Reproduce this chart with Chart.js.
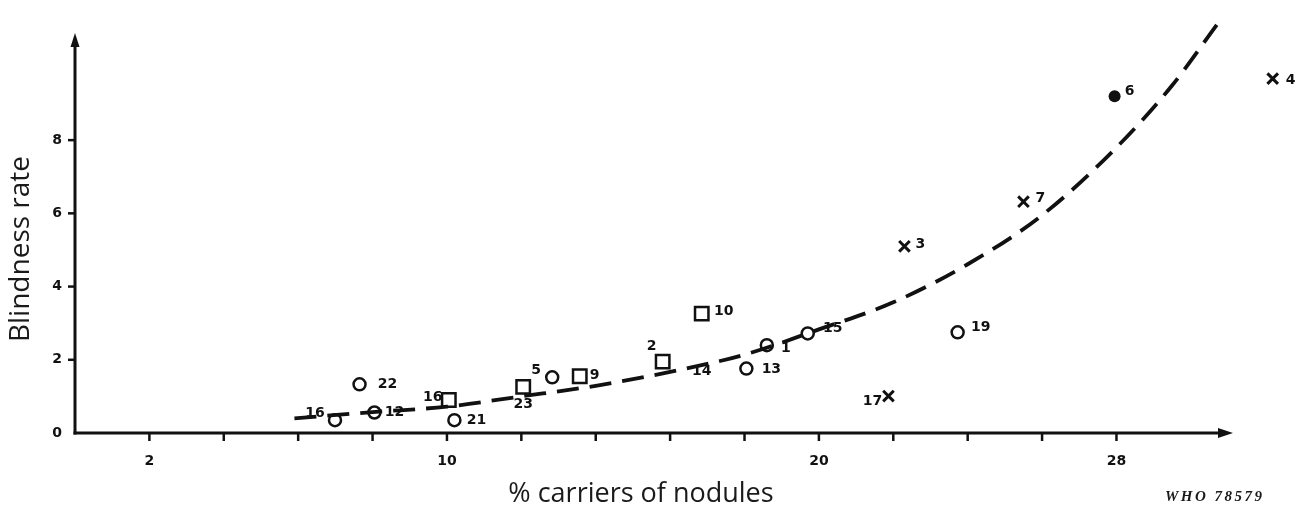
<!DOCTYPE html>
<html>
<head>
<meta charset="utf-8">
<script src="https://cdn.jsdelivr.net/npm/chart.js@4"></script>
<style>
  html, body { margin: 0; padding: 0; background: #fff; overflow: hidden; }
  canvas { display: block; }
</style>
</head>
<body>
<canvas id="c" width="1307" height="510" style="width:1307px;height:510px"></canvas>
<script>
// Survey areas, grouped by marker type: % carriers of nodules vs blindness rate
const openCircleIds = ['16', '12', '22', '21', '5', '13', '1', '15', '19'];
const openCircleX   = [6.99, 8.05, 7.65, 10.2, 12.83, 18.05, 18.6, 19.7, 23.73];
const openCircleY   = [0.35, 0.56, 1.33, 0.35, 1.52, 1.76, 2.4, 2.72, 2.75];

const squareIds = ['16', '23', '9', '2', '10'];
const squareX   = [10.05, 12.05, 13.57, 15.8, 16.85];
const squareY   = [0.9, 1.26, 1.55, 1.95, 3.26];

const crossIds = ['17', '3', '7', '4'];
const crossX   = [21.87, 22.3, 25.5, 32.2];
const crossY   = [1.01, 5.1, 6.32, 9.68];

const filledIds = ['6'];
const filledX   = [27.95];
const filledY   = [9.2];

// area 14 lies on the trend line itself
const onCurveIds = ['14'];
const onCurveX   = [16.85];
const onCurveY   = [1.68];

// fitted trend line
const curveX = [5.9, 8, 10, 12, 14, 16, 18, 20, 22, 24, 26, 28, 29.5, 30.7];
const curveY = [0.40, 0.57, 0.72, 1.0, 1.29, 1.67, 2.14, 2.83, 3.57, 4.61, 5.95, 7.8, 9.5, 11.15];

// axis ticks
const xTickMarks  = [2, 4, 6, 8, 10, 12, 14, 16, 18, 20, 22, 24, 26, 28];
const xTickLabels = [2, 10, 20, 28];
const yTickMarks  = [2, 4, 6, 8];
const yTickLabels = [0, 2, 4, 6, 8];

const xTitle = '% carriers of nodules';
const yTitle = 'Blindness rate';
const figureRef = 'WHO 78579';

// label nudges in px relative to each marker: [dx, dy]
const circleNudge = [[-20, -7], [20, 0], [28, 0], [22, 0], [-16, -7], [25, 1], [19, 3], [25, -5], [23, -5]];
const squareNudge = [[-16, -3], [0, 17], [15, -1], [-11, -15], [22, -2]];
const crossNudge  = [[-16, 5], [16, -2], [17, -3], [18, 2]];
const filledNudge = [[15, -5]];
const onCurveNudge = [[0, 0]];

const pts = (xs, ys) => xs.map((x, i) => ({ x: x, y: ys[i] }));

const INK = '#111';

const axesPlugin = {
  id: 'handAxes',
  beforeDatasetsDraw(chart) {
    const { ctx, scales: { x, y } } = chart;
    const x0 = x.getPixelForValue(0), y0 = y.getPixelForValue(0);
    ctx.save();
    ctx.strokeStyle = INK; ctx.fillStyle = INK; ctx.lineWidth = 3; ctx.lineCap = 'butt';
    // y axis with arrow
    const yTop = 33;
    ctx.beginPath(); ctx.moveTo(x0, y0 + 1.5); ctx.lineTo(x0, yTop + 10); ctx.stroke();
    ctx.beginPath(); ctx.moveTo(x0, yTop); ctx.lineTo(x0 - 4.5, yTop + 14); ctx.lineTo(x0 + 4.5, yTop + 14); ctx.closePath(); ctx.fill();
    // x axis with arrow
    const xEnd = 1233;
    ctx.beginPath(); ctx.moveTo(x0 - 1.5, y0); ctx.lineTo(xEnd - 10, y0); ctx.stroke();
    ctx.beginPath(); ctx.moveTo(xEnd, y0); ctx.lineTo(xEnd - 15, y0 - 5); ctx.lineTo(xEnd - 15, y0 + 5); ctx.closePath(); ctx.fill();
    // tick marks
    ctx.lineWidth = 2.5;
    xTickMarks.forEach(v => {
      const px = x.getPixelForValue(v);
      ctx.beginPath(); ctx.moveTo(px, y0); ctx.lineTo(px, y0 + 8); ctx.stroke();
    });
    yTickMarks.forEach(v => {
      const py = y.getPixelForValue(v);
      ctx.beginPath(); ctx.moveTo(x0, py); ctx.lineTo(x0 - 7, py); ctx.stroke();
    });
    // tick labels
    ctx.font = 'bold 14px "DejaVu Sans"';
    ctx.textBaseline = 'middle';
    ctx.textAlign = 'center';
    xTickLabels.forEach(v => ctx.fillText(String(v), x.getPixelForValue(v), y0 + 28));
    ctx.textAlign = 'right';
    yTickLabels.forEach(v => ctx.fillText(String(v), x0 - 13, y.getPixelForValue(v)));
    // axis titles
    ctx.fillStyle = '#1a1a1a';
    ctx.font = '27px "Open Sans"';
    ctx.textAlign = 'center';
    ctx.fillText(xTitle, 641, 494);
    ctx.save();
    ctx.translate(21, 249); ctx.rotate(-Math.PI / 2);
    ctx.font = '28px "Open Sans"';
    ctx.fillText(yTitle, 0, 0);
    ctx.restore();
    // figure reference
    ctx.font = 'italic bold 15px "Liberation Serif"';
    ctx.letterSpacing = '2.5px';
    ctx.textAlign = 'left';
    ctx.fillText(figureRef, 1165, 497);
    ctx.restore();
  },
  afterDatasetsDraw(chart) {
    const { ctx } = chart;
    ctx.save();
    ctx.fillStyle = INK;
    ctx.font = 'bold 14px "DejaVu Sans"';
    ctx.textAlign = 'center';
    ctx.textBaseline = 'middle';
    chart.data.datasets.forEach((ds, di) => {
      if (!ds.ids) return;
      const meta = chart.getDatasetMeta(di);
      ds.ids.forEach((id, i) => {
        const el = meta.data[i];
        const n = ds.nudge[i];
        ctx.fillText(id, el.x + n[0], el.y + n[1]);
      });
    });
    ctx.restore();
  }
};

new Chart(document.getElementById('c'), {
  type: 'scatter',
  data: {
    datasets: [
      {
        type: 'line', label: 'trend', data: pts(curveX, curveY),
        borderColor: INK, borderWidth: 3.8, borderDash: [22, 11], borderCapStyle: 'butt',
        pointRadius: 0, fill: false, cubicInterpolationMode: 'monotone'
      },
      {
        label: 'open circles', data: pts(openCircleX, openCircleY), ids: openCircleIds, nudge: circleNudge,
        pointStyle: 'circle', pointRadius: 6, pointBorderWidth: 2.5,
        pointBackgroundColor: '#fff', pointBorderColor: INK
      },
      {
        label: 'squares', data: pts(squareX, squareY), ids: squareIds, nudge: squareNudge,
        pointStyle: 'rect', pointRadius: 9.5, pointBorderWidth: 2.5,
        pointBackgroundColor: '#fff', pointBorderColor: INK
      },
      {
        label: 'crosses', data: pts(crossX, crossY), ids: crossIds, nudge: crossNudge,
        pointStyle: 'crossRot', pointRadius: 7.5, pointBorderWidth: 3,
        pointBorderColor: INK
      },
      {
        label: 'filled', data: pts(filledX, filledY), ids: filledIds, nudge: filledNudge,
        pointStyle: 'circle', pointRadius: 6, pointBorderWidth: 0,
        pointBackgroundColor: INK, pointBorderColor: INK
      },
      {
        label: 'on trend', data: pts(onCurveX, onCurveY), ids: onCurveIds, nudge: onCurveNudge,
        pointRadius: 0
      }
    ]
  },
  options: {
    responsive: false,
    animation: false,
    clip: false,
    layout: { padding: { left: 75, right: 2, top: 2, bottom: 77 } },
    scales: {
      x: { type: 'linear', min: 0, max: 32.8, display: false },
      y: { type: 'linear', min: 0, max: 11.5, display: false }
    },
    plugins: { legend: { display: false }, tooltip: { enabled: false } },
    events: []
  },
  plugins: [axesPlugin]
});
</script>
</body>
</html>
